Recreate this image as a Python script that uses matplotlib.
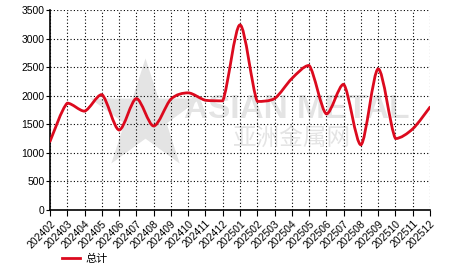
import matplotlib
matplotlib.use("Agg")
import matplotlib.pyplot as plt
import numpy as np
from matplotlib.path import Path
from matplotlib.patches import PathPatch
from matplotlib.lines import Line2D

months = ["202402", "202403", "202404", "202405", "202406", "202407", "202408",
          "202409", "202410", "202411", "202412", "202501", "202502", "202503",
          "202504", "202505", "202506", "202507", "202508", "202509", "202510",
          "202511", "202512"]
total = [1200, 1870, 1730, 2020, 1400, 1950, 1470, 1940, 2050, 1920, 1910,
         3240, 1900, 1950, 2300, 2530, 1680, 2200, 1140, 2470, 1250, 1420, 1800]

y_ticks = [0, 500, 1000, 1500, 2000, 2500, 3000, 3500]
line_color = "#dc0a1e"


def smooth_path(xs, ys, k=0.15):
    # cardinal spline -> cubic bezier, control points clamped to avoid overshoot
    pts = np.column_stack([xs, ys]).astype(float)
    verts = [pts[0]]
    codes = [Path.MOVETO]
    n = len(pts)
    for i in range(n - 1):
        p0 = pts[max(i - 1, 0)]
        p1 = pts[i]
        p2 = pts[i + 1]
        p3 = pts[min(i + 2, n - 1)]
        c1 = p1 + (p2 - p0) * k
        c2 = p2 - (p3 - p1) * k
        lo, hi = min(p1[1], p2[1]), max(p1[1], p2[1])
        c1[1] = np.clip(c1[1], lo, hi)
        c2[1] = np.clip(c2[1], lo, hi)
        verts += [c1, c2, p2]
        codes += [Path.CURVE4] * 3
    return Path(verts, codes)


plt.rcParams["font.family"] = ["Liberation Sans", "DejaVu Sans"]

fig = plt.figure(figsize=(4.66, 2.72), dpi=100)
ax = fig.add_axes([50 / 466, 1 - 210 / 272, 380 / 466, 200 / 272])

x = np.arange(len(months))

# watermark
ax.scatter([5.5], [1640], marker="*", s=7000, color="#e4e4e4", zorder=0, linewidths=0)
ax.text(14.3, 1760, "ASIAN METAL", fontsize=24, fontweight="bold", color="#e4e4e4",
        ha="center", va="center", zorder=0)
ax.text(14.0, 1260, "亚洲金属网", fontsize=17, color="#e4e4e4", ha="center", va="center",
        family=["Noto Sans CJK SC"], zorder=0)

ax.add_patch(PathPatch(smooth_path(x, total), fill=False, edgecolor=line_color,
                       lw=2, zorder=3, capstyle="round", joinstyle="round"))

ax.set_xlim(0, len(months) - 1)
ax.set_ylim(0, 3500)
ax.set_yticks(y_ticks)
ax.set_xticks(x)
ax.set_xticklabels(months, rotation=45, ha="right", rotation_mode="anchor", fontsize=7.5)
ax.tick_params(axis="y", labelsize=7.5, length=3, pad=1)
ax.tick_params(axis="x", length=4, pad=2)

ax.grid(True, color="black", linestyle=(0, (1, 2)), linewidth=0.8)
for s in ["top", "right"]:
    ax.spines[s].set_visible(False)
ax.spines["left"].set_linewidth(1.2)
ax.spines["bottom"].set_linewidth(1.2)

handle = Line2D([], [], color=line_color, lw=2)
leg = fig.legend([handle], ["总计"], loc="center left", bbox_to_anchor=(52 / 466, 1 - 259 / 272),
                 frameon=False, handlelength=1.6, handletextpad=0.5,
                 prop={"family": ["Noto Sans CJK SC"], "size": 8})

fig.savefig("out.png", dpi=100)
